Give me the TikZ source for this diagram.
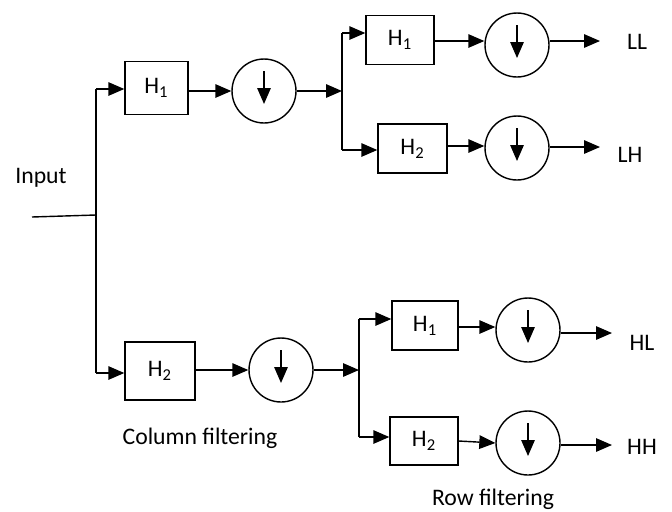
\documentclass[tikz,border=0pt]{standalone}
\usepackage{fontspec}
\setmainfont{Carlito}
\usepackage{tikz}
\usetikzlibrary{arrows.meta,calc}

\tikzset{
  filt/.style={draw,minimum width=1.34cm,minimum height=1cm,inner sep=0pt,font=\fontsize{13.5}{16}\selectfont},
  down/.style={draw,circle,minimum size=1.28cm,inner sep=0pt,
    path picture={\draw[-{Triangle[length=0.32cm,width=0.27cm]}]
      ($(path picture bounding box.center)+(0,0.4cm)$) -- ++(0,-0.66cm);}},
  sig/.style={-{Triangle[length=0.32cm,width=0.27cm]}},
  lbl/.style={font=\fontsize{13.5}{16}\selectfont}
}

\begin{document}
\begin{tikzpicture}[x=0.02cm,y=-0.02cm,line width=0.8pt]
    \useasboundingbox (0,0) rectangle (672,511);
    % column filtering
    \coordinate (in) at (32,217);
    \coordinate (ja) at (96,215);
    \coordinate (ta) at (96,89);
    \coordinate (ba) at (96,373);
    \node[lbl] (input) at (41,178) {Input};
    \draw (in) -- (ja);
    \draw (ta) -- (ba);
    \node[filt,minimum width=1.26cm,minimum height=1.06cm] (h1a) at (156.5,88) {H\textsubscript{1}};
    \node[filt,minimum width=1.4cm,minimum height=1.16cm] (h2a) at (160,371) {H\textsubscript{2}};
    \node[down] (d1a) at (264,91) {};
    \node[down] (d2a) at (281,370) {};
    \draw[sig] (ta) -- (ta -| h1a.west);
    \draw[sig] (ba) -- (ba -| h2a.west);
    \draw[sig] (h1a.east |- d1a) -- (d1a.west);
    \draw[sig] (h2a.east |- d2a) -- (d2a.west);
    \node[lbl] (colf) at (200,438) {Column filtering};
    % row filtering, upper half
    \coordinate (tb) at (342,33);
    \coordinate (bb) at (342,150);
    \draw (tb) -- (bb);
    \draw[sig] (d1a.east) -- (d1a.east -| tb);
    \node[filt,minimum width=1.36cm,minimum height=0.98cm] (h1b) at (400,40) {H\textsubscript{1}};
    \node[filt,minimum width=1.38cm,minimum height=0.98cm] (h2b) at (412.5,148.5) {H\textsubscript{2}};
    \node[down] (d1b) at (517,45) {};
    \node[down] (d2b) at (517,148) {};
    \draw[sig] (tb) -- (tb -| h1b.west);
    \draw[sig] (bb) -- (bb -| h2b.west);
    \draw[sig] (h1b.east |- 0,41) -- (d1b.west |- 0,41);
    \draw[sig] (h2b.east |- 0,146) -- (d2b.west |- 0,146);
    \coordinate (oll) at (600,41);
    \coordinate (olh) at (600,147);
    \draw[sig] (d1b.east |- oll) -- (oll);
    \draw[sig] (d2b.east |- olh) -- (olh);
    \node[lbl] (ll) at (637,42) {LL};
    \node[lbl] (lh) at (630,155) {LH};
    % row filtering, lower half
    \coordinate (tc) at (359,319);
    \coordinate (bc) at (359,437);
    \draw (tc) -- (bc);
    \draw[sig] (d2a.east) -- (d2a.east -| tc);
    \node[filt,minimum width=1.32cm,minimum height=0.98cm] (h1c) at (425,325.5) {H\textsubscript{1}};
    \node[filt,minimum width=1.36cm,minimum height=0.96cm] (h2c) at (424,441) {H\textsubscript{2}};
    \node[down] (d1c) at (528,330) {};
    \node[down] (d2c) at (528,443) {};
    \draw[sig] (tc) -- (tc -| h1c.west);
    \draw[sig] (bc) -- (bc -| h2c.west);
    \draw[sig] (h1c.east |- 0,327) -- (d1c.west |- 0,327);
    \draw[sig] (h2c.east |- 0,441) -- (d2c.west |- 0,443);
    \coordinate (ohl) at (612,333);
    \coordinate (ohh) at (612,445);
    \draw[sig] (d1c.east |- ohl) -- (ohl);
    \draw[sig] (d2c.east |- ohh) -- (ohh);
    \node[lbl] (hl) at (642,343) {HL};
    \node[lbl] (hh) at (642,447) {HH};
    \node[lbl] (rowf) at (493,499) {Row filtering};
\end{tikzpicture}
\end{document}
